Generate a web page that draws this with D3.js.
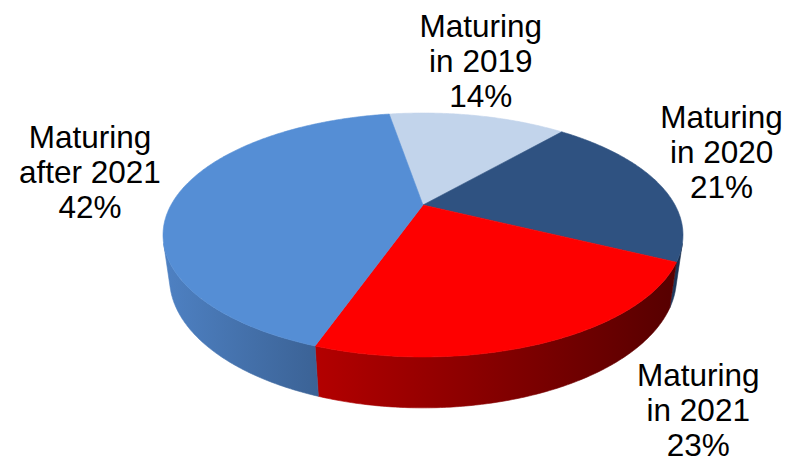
<!DOCTYPE html>
<html>
<head>
<meta charset="utf-8">
<script src="https://cdn.jsdelivr.net/npm/d3@7/dist/d3.min.js"></script>
<style>
  html, body { margin: 0; padding: 0; background: #ffffff; }
  svg { display: block; }
  text { font-family: "Liberation Sans", Arial, sans-serif; fill: #000; }
</style>
</head>
<body>
<svg id="chart" width="798" height="463"></svg>
<script>
// Portfolio maturity profile
const categories = ["Maturing in 2019", "Maturing in 2020", "Maturing in 2021", "Maturing after 2021"];
const labelLines = [["Maturing", "in 2019"], ["Maturing", "in 2020"], ["Maturing", "in 2021"], ["Maturing", "after 2021"]];
const values = [14, 21, 23, 42];
const topColors = ["#c2d4eb", "#2f5281", "#fe0000", "#558ed5"];
const sideColors = [["#9fb2cc", "#8a9cb6"], ["#233f66", "#172a47"], ["#b30000", "#560000"], ["#4e81c3", "#3b6295"]];

const svg = d3.select("#chart");
const defs = svg.append("defs");

// Perspective camera for the tilted disc
const cx = 423, cy = 205;
const F = 913, D = 3.623;
const tilt = 27.05 * Math.PI / 180;
const sn = Math.sin(tilt), cs = Math.cos(tilt);
const depth = 0.193;

function proj(theta, r, h) {
  const u = r * Math.sin(theta), v = r * Math.cos(theta);
  const X = u, Y = v * sn + h * cs, Z = D + v * cs - h * sn;
  return [cx + F * X / Z, cy - F * Y / Z];
}

// Visible range of the outer wall (tangent from the camera to the rim)
const camDist = D * cs;
const sil = Math.acos(-1 / camDist);
const visA = sil, visB = 2 * Math.PI - sil;

const pie = d3.pie().sort(null).value(d => d)
  .startAngle(-9.6 * Math.PI / 180).endAngle(350.4 * Math.PI / 180);
const arcs = pie(values);

const line = d3.line();
function arcPts(a, b, h) {
  const n = Math.max(2, Math.ceil(Math.abs(b - a) / 0.01));
  return d3.range(n + 1).map(i => proj(a + (b - a) * i / n, 1, h));
}

// Outer walls
const gSide = svg.append("g");
arcs.forEach((d, i) => {
  // normalise to [0, 2π) for the visibility test
  let a = d.startAngle, b = d.endAngle;
  if (a < 0) { a += 2 * Math.PI; b += 2 * Math.PI; }
  const ranges = [[a, b], [a - 2 * Math.PI, b - 2 * Math.PI]];
  ranges.forEach(([s, e]) => {
    const s2 = Math.max(s, visA), e2 = Math.min(e, visB);
    if (e2 <= s2) return;
    const topEdge = arcPts(s2, e2, 0);
    const botEdge = arcPts(e2, s2, -depth);
    const pts = topEdge.concat(botEdge);
    const xs = pts.map(p => p[0]);
    const gid = "side" + i;
    const grad = defs.append("linearGradient").attr("id", gid)
      .attr("gradientUnits", "userSpaceOnUse")
      .attr("x1", d3.min(xs)).attr("x2", d3.max(xs)).attr("y1", 0).attr("y2", 0);
    grad.append("stop").attr("offset", "0%").attr("stop-color", sideColors[i][0]);
    grad.append("stop").attr("offset", "100%").attr("stop-color", sideColors[i][1]);
    gSide.append("path")
      .attr("d", line(pts) + "Z")
      .attr("fill", `url(#${gid})`)
      .attr("stroke", `url(#${gid})`)
      .attr("stroke-width", 0.6);
  });
});

// Top faces
const gTop = svg.append("g");
arcs.forEach((d, i) => {
  const pts = [proj(0, 0, 0)].concat(arcPts(d.startAngle, d.endAngle, 0));
  gTop.append("path")
    .attr("d", line(pts) + "Z")
    .attr("fill", topColors[i])
    .attr("stroke", topColors[i])
    .attr("stroke-width", 0.6)
    .attr("stroke-linejoin", "round");
});

// Data labels, placed off the rim point at each slice's mid-angle
const labelShift = [[3, -55], [63, -31], [152, 68], [-87, -24]];
const lineGap = 35;
const gLab = svg.append("g");
arcs.forEach((d, i) => {
  const mid = (d.startAngle + d.endAngle) / 2;
  const [ex, ey] = proj(mid, 1, 0);
  const x = ex + labelShift[i][0], y = ey + labelShift[i][1];
  const lines = labelLines[i].concat([d3.format(".0f")(d.value) + "%"]);
  const t = gLab.append("text")
    .attr("text-anchor", "middle")
    .attr("font-size", 31.5)
    .attr("x", x).attr("y", y);
  lines.forEach((s, k) => {
    t.append("tspan").attr("x", x).attr("y", y + (k - 1) * lineGap + 11).text(s);
  });
});
</script>
</body>
</html>
